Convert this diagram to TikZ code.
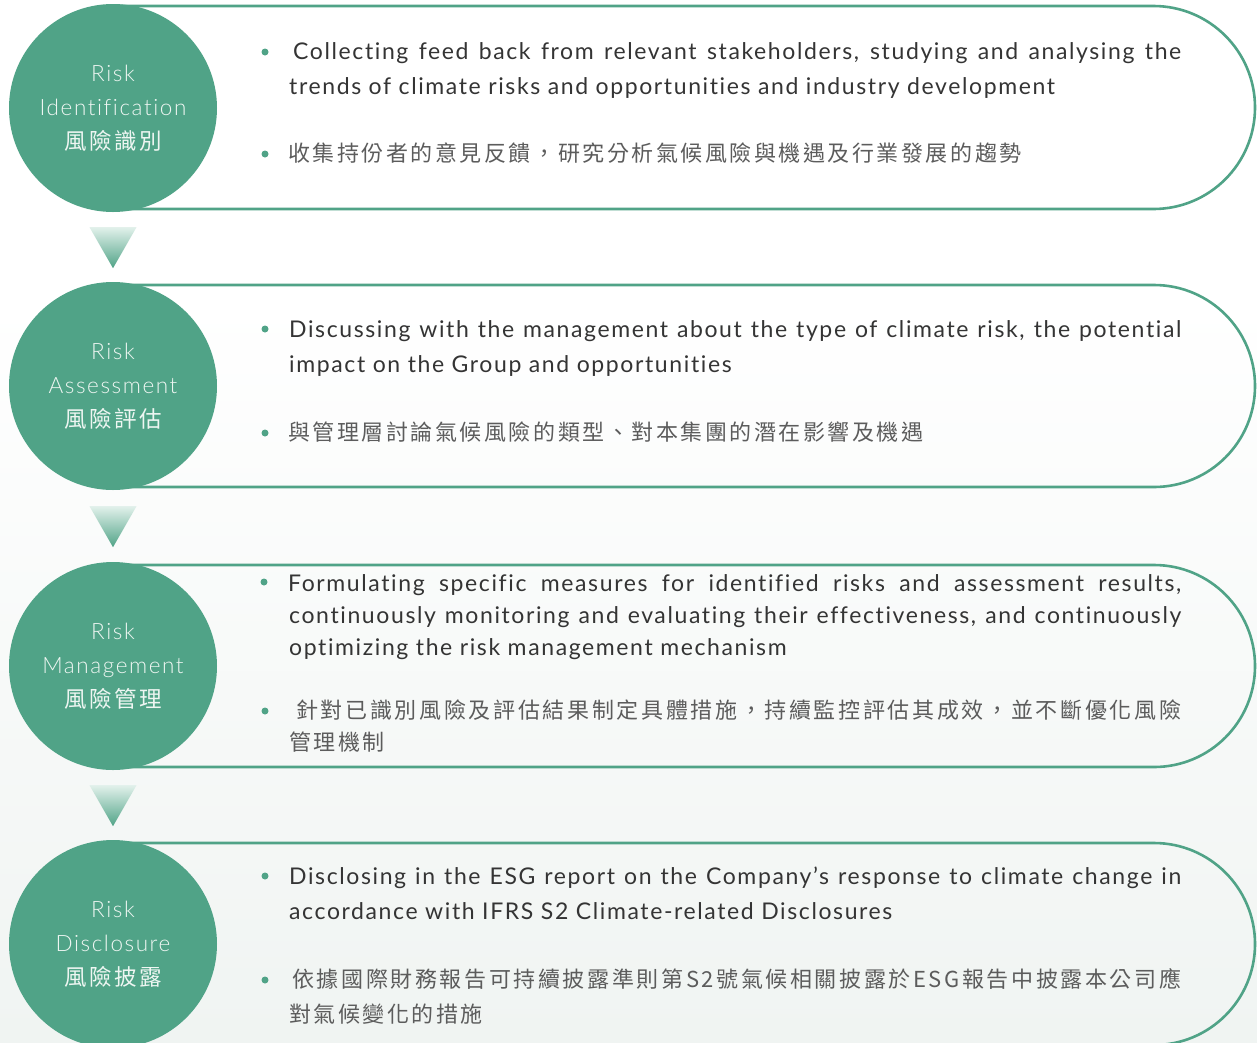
\documentclass[tikz,border=0pt]{standalone}
\usepackage{fontspec}
\usetikzlibrary{calc}
\setmainfont{Lato}[LetterSpace=7, Ligatures=NoCommon]
\newfontfamily\labelfont{Lato Light}[LetterSpace=7, Ligatures=NoCommon]
\newfontfamily\cjk{Noto Sans CJK TC}[LetterSpace=11.5]

\definecolor{stagegreen}{RGB}{80,163,135}
\definecolor{trilight}{RGB}{226,241,235}
\definecolor{labelwhite}{RGB}{238,246,242}
\definecolor{bodygray}{RGB}{52,52,52}
\definecolor{zhgray}{RGB}{92,92,92}
\definecolor{bgbottom}{RGB}{240,244,242}

% spread a run of characters evenly over a given width
\def\cjkstopmark{\relax}
\def\cjkstep#1{\def\cjktmparg{#1}\ifx\cjktmparg\cjkstopmark\else#1\hfil\expandafter\cjkstep\fi}
\newcommand\cjkspreadbox[2]{\hbox to #1{\cjkstep#2\relax\unskip}}

\tikzset{
  stage/.style={circle, fill=stagegreen, minimum size=208pt, inner sep=0pt,
    text=labelwhite, align=center, font=\labelfont\fontsize{22.5}{34}\selectfont},
  band/.style={draw=stagegreen, line width=2.6pt},
  en/.style={anchor=base west, inner sep=0pt, text=bodygray,
    font=\fontsize{23}{30}\selectfont},
  zh/.style={anchor=base west, inner sep=0pt, text=zhgray,
    font=\cjk\fontsize{22}{30}\selectfont},
  bullet/.style={circle, fill=stagegreen, minimum size=7pt, inner sep=0pt},
  flowtri/.style={top color=trilight, bottom color=stagegreen},
}

\begin{document}
\begin{tikzpicture}[x=1pt, y=-1pt]
\useasboundingbox (0,0) rectangle (1257,1042);
% page background: white fading to a pale grey-green
\fill[white] (0,0) rectangle (1257,300);
\shade[top color=white, bottom color=bgbottom] (0,299) rectangle (1257,1042);

% rounded bands holding the descriptions
\draw[band] (113,6) -- (1153.5,6) arc[start angle=-90, end angle=90, radius=101.5] -- (113,209);
\draw[band] (113,285) -- (1154,285) arc[start angle=-90, end angle=90, radius=101] -- (113,487);
\draw[band] (113,565) -- (1154,565) arc[start angle=-90, end angle=90, radius=101] -- (113,767);
\draw[band] (113,843) -- (1154,843) arc[start angle=-90, end angle=90, radius=101] -- (113,1045);

% stage circles
\node[stage] (c1) at (113,108) {Risk\\Identification\\{\cjk 風險識別}};
\node[stage] (c2) at (113,386) {Risk\\Assessment\\{\cjk 風險評估}};
\node[stage] (c3) at (113,666) {Risk\\Management\\{\cjk 風險管理}};
\node[stage] (c4) at (113,944) {Risk\\Disclosure\\{\cjk 風險披露}};

% downward pointers between stages
\shade[flowtri] ($(c1.south)+(-23.5,15)$) -- ($(c1.south)+(23.5,15)$) -- ($(c1.south)+(0,56)$) -- cycle;
\shade[flowtri] ($(c2.south)+(-23.5,16)$) -- ($(c2.south)+(23.5,16)$) -- ($(c2.south)+(0,57)$) -- cycle;
\shade[flowtri] ($(c3.south)+(-23.5,15)$) -- ($(c3.south)+(23.5,15)$) -- ($(c3.south)+(0,56)$) -- cycle;

% stage 1
\node[bullet] (d1a) at (265,52) {};
\node[en] (t1a) at (293,59) {\makebox[888pt][s]{Collecting feed back from relevant stakeholders, studying and analysing the}};
\node[en] (t1b) at (289,94) {trends of climate risks and opportunities and industry development};
\node[bullet] (d1b) at (265,154) {};
\node[zh] (z1) at (288,161) {收集持份者的意見反饋，研究分析氣候風險與機遇及行業發展的趨勢};

% stage 2
\node[bullet] (d2a) at (265,329) {};
\node[en] (t2a) at (289,337) {\makebox[892pt][s]{Discussing with the management about the type of climate risk, the potential}};
\node[en] (t2b) at (289,372) {impact on the Group and opportunities};
\node[bullet] (d2b) at (265,433) {};
\node[zh] (z2) at (288,440) {與管理層討論氣候風險的類型、對本集團的潛在影響及機遇};

% stage 3
\node[bullet] (d3a) at (264,582) {};
\node[en] (t3a) at (288,591) {\makebox[893pt][s]{Formulating specific measures for identified risks and assessment results,}};
\node[en] (t3b) at (289,623) {\makebox[892pt][s]{continuously monitoring and evaluating their effectiveness, and continuously}};
\node[en] (t3c) at (289,655) {optimizing the risk management mechanism};
\node[bullet] (d3b) at (265,711) {};
\node[zh] (z3a) at (296,718) {\cjkspreadbox{885pt}{針對已識別風險及評估結果制定具體措施，持續監控評估其成效，並不斷優化風險}};
\node[zh] (z3b) at (289,750) {管理機制};

% stage 4
\node[bullet] (d4a) at (265,876) {};
\node[en] (t4a) at (289,884) {\makebox[892pt][s]{Disclosing in the ESG report on the Company's response to climate change in}};
\node[en] (t4b) at (289,919) {accordance with IFRS S2 Climate-related Disclosures};
\node[bullet] (d4b) at (265,980) {};
\node[zh] (z4a) at (292,987) {\cjkspreadbox{889pt}{依據國際財務報告可持續披露準則第{S2}號氣候相關披露於{ESG}報告中披露本公司應}};
\node[zh] (z4b) at (289,1022) {對氣候變化的措施};
\end{tikzpicture}
\end{document}
